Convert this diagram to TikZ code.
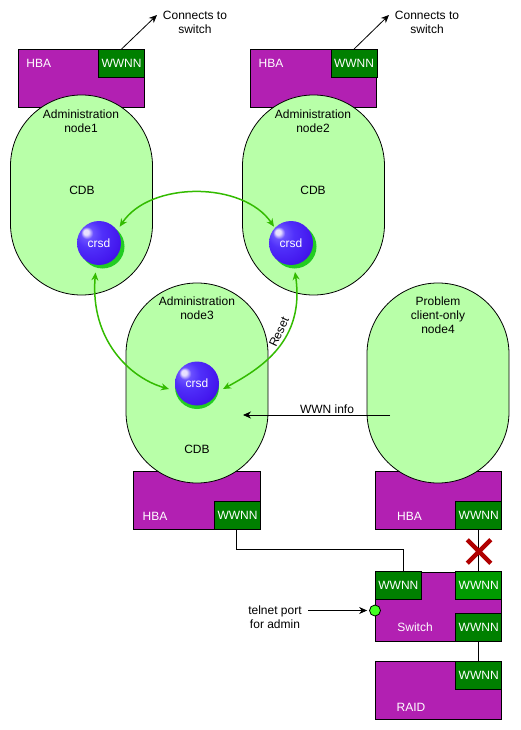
\documentclass[tikz,border=0pt]{standalone}
\usepackage{fontspec}
\setmainfont{Liberation Sans}
\usetikzlibrary{arrows.meta,calc,shapes.misc}
\definecolor{hbacol}{HTML}{B220B2}
\definecolor{wwcol}{HTML}{008000}
\definecolor{wwbright}{HTML}{009A00}
\definecolor{nodecol}{HTML}{B8FFA8}
\definecolor{arccol}{HTML}{33BB00}
\definecolor{shadowcol}{HTML}{22CC22}
\definecolor{dotcol}{HTML}{44FF22}
\definecolor{xcol}{HTML}{B00000}
\definecolor{sz}{HTML}{E8E0FF}
\definecolor{sa}{HTML}{6A50FF}
\definecolor{sb}{HTML}{5030FA}
\definecolor{sc}{HTML}{4418EE}
\definecolor{sd}{HTML}{3000C0}
\pgfdeclareradialshading{bluesphere}{\pgfpoint{-15.5bp}{13bp}}{
  color(0bp)=(sz);
  color(3bp)=(sz);
  color(7bp)=(sa);
  color(15bp)=(sb);
  color(30bp)=(sc);
  color(46bp)=(sd);
  color(60bp)=(sd)}
\tikzset{
  x=1pt,y=-1pt,
  txt/.style={font=\fontsize{12}{14}\selectfont,align=center,inner sep=0pt,text=black},
  wtxt/.style={txt,text=white},
  hba/.style={draw=black,line width=.8pt,fill=hbacol,minimum width=126.5pt,inner sep=0pt},
  wwnn/.style={draw=black,line width=.8pt,fill=wwcol,minimum width=46pt,minimum height=28pt,inner sep=0pt,text=white,font=\fontsize{12}{14}\selectfont},
  stadium/.style={draw=black,line width=.8pt,fill=nodecol,minimum width=142pt,minimum height=200pt,inner sep=0pt,rounded corners=70.9pt},
  sphere/.style={circle,minimum size=44pt,inner sep=0pt,shading=bluesphere,text=white,font=\fontsize{12}{14}\selectfont},
  shadowdisc/.style={circle,minimum size=44pt,inner sep=0pt,fill=shadowcol},
  arc/.style={draw=arccol,line width=1.5pt,{Stealth[length=8pt,width=7pt]}-{Stealth[length=8pt,width=7pt]}},
  wire/.style={draw=black,line width=.8pt},
  tip/.style={wire,-{Stealth[length=8pt,width=7pt]}}
}
\begin{document}
\begin{tikzpicture}
\useasboundingbox (0,0) rectangle (520,730);
% top HBAs
\node[hba,minimum height=57.5pt] (hba1) at (81.25,78.25) {};
\node[wwnn] (w1) at (121.5,63.5) {WWNN};
\node[wtxt] (hba1t) at (38.7,63.5) {HBA};
\node[hba,minimum height=57.5pt] (hba2) at (313.5,78.25) {};
\node[wwnn] (w2) at (354,63.5) {WWNN};
\node[wtxt] (hba2t) at (271,63.5) {HBA};
% lower HBAs
\node[hba,minimum height=58pt] (hba3) at (197,500) {};
\node[hba,minimum height=58pt] (hba4) at (438.5,500) {};
% stadiums
\node[stadium] (n1) at (81.5,195) {};
\node[stadium] (n2) at (313.5,195) {};
\node[stadium] (n3) at (197,383) {};
\node[stadium] (n4) at (438,383) {};
\node[wwnn] (w3) at (237.5,515) {WWNN};
\node[wtxt] (hba3t) at (155,516) {HBA};
\node[wwnn] (w4) at (478.7,515) {WWNN};
\node[wtxt] (hba4t) at (409.5,516) {HBA};
% labels
\node[txt] (l1) at (81,121.5) {Administration\\node1};
\node[txt] (l2) at (313,121.5) {Administration\\node2};
\node[txt] (l3) at (197,308) {Administration\\node3};
\node[txt] (l4) at (438,315) {Problem\\client-only\\node4};
\node[txt] (cdb1) at (82,190.5) {CDB};
\node[txt] (cdb2) at (313,190.5) {CDB};
\node[txt] (cdb3) at (197,449.5) {CDB};
% spheres
\node[shadowdisc] (d1) at (102.5,246.5) {};
\node[shadowdisc] (d2) at (294.5,246.5) {};
\node[shadowdisc] (d3) at (197,387) {};
\node[sphere] (s1) at (99,243) {crsd};
\node[sphere] (s2) at (291,243) {crsd};
\node[sphere] (s3) at (197,383.5) {crsd};
% arcs
\coordinate (a1) at ($(s1.center)+(20.7,-16.3)$);
\coordinate (a2) at ($(s2.center)+(-17,-16.3)$);
\coordinate (b1) at ($(s1.center)+(-3.5,29.5)$);
\coordinate (b3) at ($(s3.center)+(-28,5.5)$);
\coordinate (c2) at ($(s2.center)+(4,29)$);
\coordinate (c3) at ($(s3.center)+(26,5.5)$);
\draw[arc] (a1) .. controls (150,181) and (243,181) .. (a2);
\draw[arc] (b1) .. controls (90,340) and (130,378) .. (b3);
\draw[arc] (c2) .. controls (305,340) and (262,368) .. (c3);
\node[txt,rotate=65] (reset) at (279,332) {Reset};
% top connectors
\node[txt] (ct1) at (195,22) {Connects to\\switch};
\node[txt] (ct2) at (427,22) {Connects to\\switch};
\coordinate (e1) at (157,15);
\coordinate (e2) at (389,15);
\draw[tip] (w1.north) -- (e1);
\draw[tip] (w2.north) -- (e2);
% WWN info
\node[txt] (wi) at (327,409) {WWN info};
\coordinate (wis) at (390,415);
\coordinate (wie) at (243,415);
\draw[tip] (wis) -- (wie);
% switch
\node[hba,minimum height=69.5pt] (sw) at (438.5,606.75) {};
\node[wtxt] (swt) at (415,627.5) {Switch};
\node[wwnn] (sl) at (398.4,585.5) {WWNN};
\node[wwnn,fill=wwbright] (sr) at (478.7,585.5) {WWNN};
\node[wwnn] (sb) at (478.7,627.5) {WWNN};
% RAID
\node[hba,minimum height=58pt] (raid) at (438.5,690.4) {};
\node[wtxt] (raidt) at (411,707.5) {RAID};
\node[wwnn] (rw) at (478.7,675.3) {WWNN};
% wires
\coordinate (k1) at (236.5,529);
\coordinate (k2) at (403.5,571.5);
\draw[wire] (k1) -- (236.5,549.5) -| (k2);
\draw[wire] (w4.south) -- (sr.north);
\draw[wire] (sb.south) -- (rw.north);
\node[cross out,draw=xcol,line width=4.5pt,minimum size=19pt,inner sep=0pt] (x) at (479,551.5) {};
% telnet
\node[txt] (tel) at (275,617.5) {telnet port\\for admin};
\node[circle,draw=black,line width=.8pt,fill=dotcol,minimum size=11pt,inner sep=0pt] (dot) at (375,610.5) {};
\coordinate (ts) at (308,610.5);
\draw[tip] (ts) -- ($(dot.west)+(-2,0)$);
\end{tikzpicture}
\end{document}
